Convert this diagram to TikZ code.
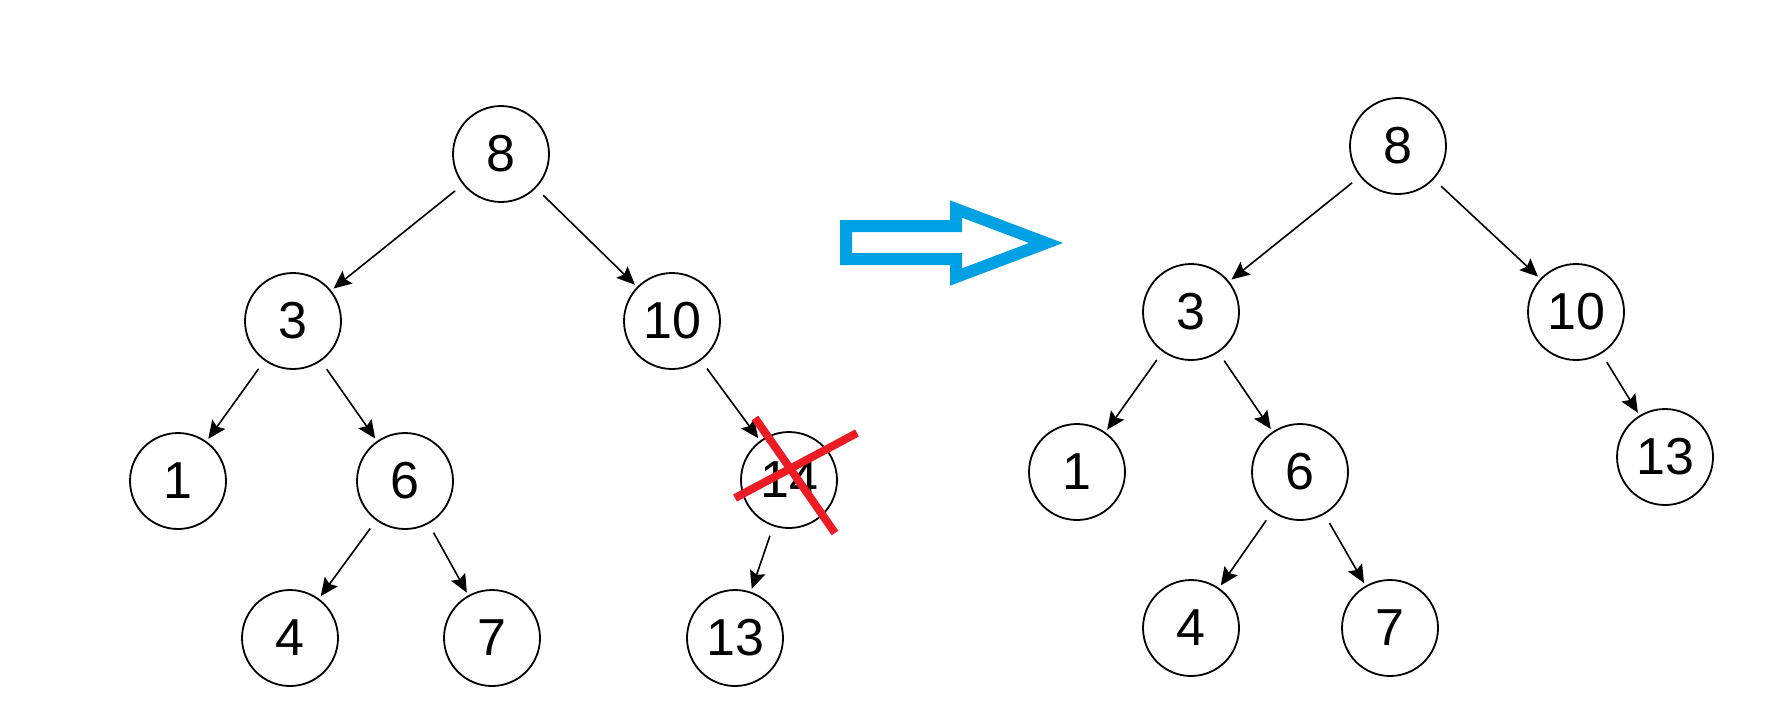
\documentclass[tikz,border=0pt]{standalone}
\usepackage{fontspec}
\setmainfont{Liberation Sans}
\usepackage{xcolor}
\usetikzlibrary{arrows.meta}
\definecolor{arrowblue}{RGB}{0,160,228}
\definecolor{crossred}{RGB}{237,28,36}

\begin{document}
\begin{tikzpicture}[
x=0.5pt, y=-0.5pt,
vtx/.style={draw, circle, line width=0.9pt, minimum size=48pt, inner sep=0pt, font=\fontsize{26}{26}\selectfont},
arr/.style={-{Stealth[length=9pt,width=8pt,inset=1.5pt]}, line width=0.8pt, shorten <=5pt, shorten >=1.5pt}
]
\useasboundingbox (0,0) rectangle (1765,719);
% tree before deletion
\node[vtx] (l8) at (501,154) {8};
\node[vtx] (l3) at (293,321) {3};
\node[vtx] (l10) at (672,321) {10};
\node[vtx] (l1) at (178,481) {1};
\node[vtx] (l6) at (405,481) {6};
\node[vtx] (l14) at (789,480) {14};
\node[vtx] (l4) at (290,638) {4};
\node[vtx] (l7) at (492,638) {7};
\node[vtx] (l13) at (735,638) {13};
\draw[arr] (l8) -- (l3);
\draw[arr] (l8) -- (l10);
\draw[arr] (l3) -- (l1);
\draw[arr] (l3) -- (l6);
\draw[arr] (l6) -- (l4);
\draw[arr] (l6) -- (l7);
\draw[arr] (l10) -- (l14);
\draw[arr] (l14) -- (l13);
% cross over the removed node
\coordinate (xa) at (735,498);
\coordinate (xb) at (857,433);
\coordinate (xc) at (755,418);
\coordinate (xd) at (835,533);
\draw[crossred, line width=4pt] (xa) -- (xb);
\draw[crossred, line width=4pt] (xc) -- (xd);
% hollow arrow
\draw[arrowblue, line width=6pt, line join=miter]
  (846,226) -- (956,226) -- (956,209) -- (1046,243) -- (956,277) -- (956,259) -- (846,259) -- cycle;
% tree after deletion
\node[vtx] (r8) at (1398,146) {8};
\node[vtx] (r3) at (1191,312) {3};
\node[vtx] (r10) at (1576,312) {10};
\node[vtx] (r1) at (1077,472) {1};
\node[vtx] (r6) at (1300,472) {6};
\node[vtx] (r13) at (1665,457) {13};
\node[vtx] (r4) at (1191,628) {4};
\node[vtx] (r7) at (1390,628) {7};
\draw[arr] (r8) -- (r3);
\draw[arr] (r8) -- (r10);
\draw[arr] (r3) -- (r1);
\draw[arr] (r3) -- (r6);
\draw[arr] (r6) -- (r4);
\draw[arr] (r6) -- (r7);
\draw[arr] (r10) -- (r13);
\end{tikzpicture}
\end{document}
